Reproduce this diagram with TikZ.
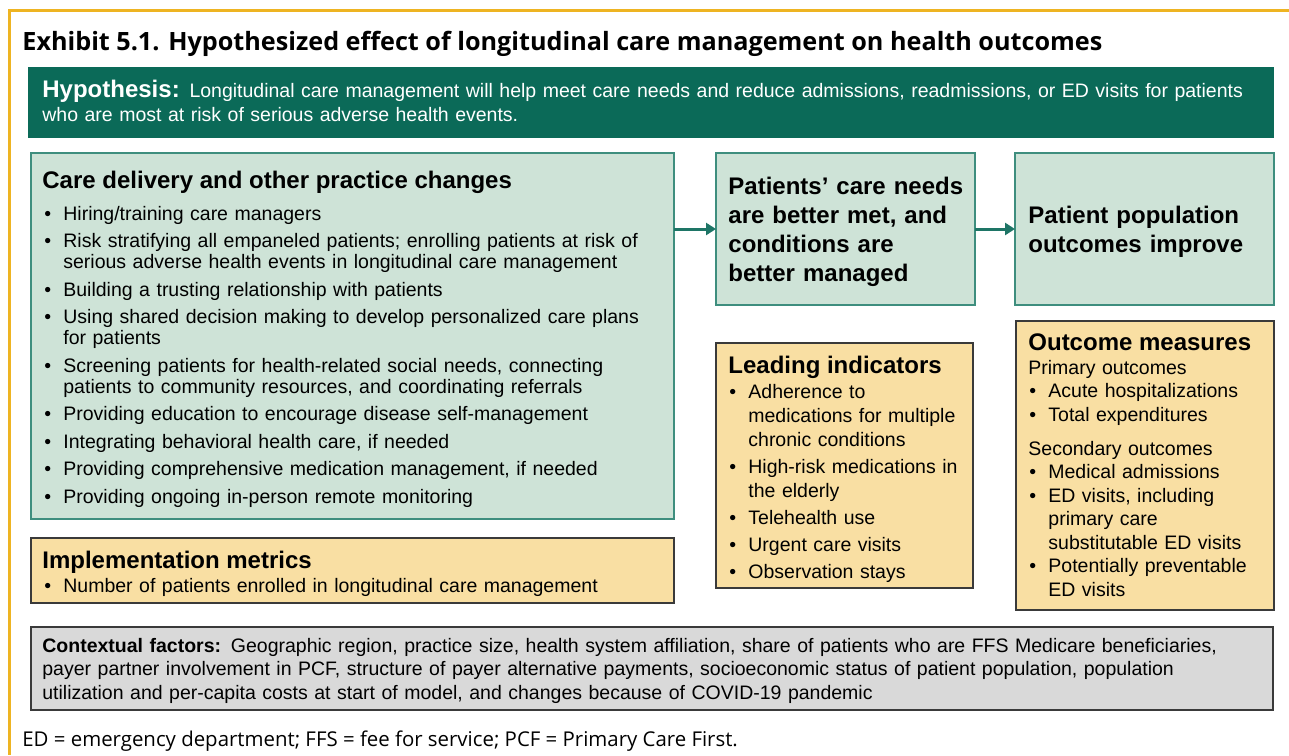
\documentclass[tikz,border=0pt]{standalone}
\usepackage{fontspec}
\setmainfont{Liberation Sans}
\newfontfamily\headfont{Open Sans}
\usepackage{tikz}
\usetikzlibrary{positioning,arrows.meta}

\definecolor{gold}{HTML}{EEB422}
\definecolor{hypgreen}{HTML}{0B6A58}
\definecolor{carefill}{HTML}{CEE3D7}
\definecolor{careline}{HTML}{3E8E7E}
\definecolor{flowteal}{HTML}{1E7566}
\definecolor{yelfill}{HTML}{F9DFA3}
\definecolor{boxline}{HTML}{3A3A3A}
\definecolor{ctxfill}{HTML}{D9D9D9}

\newcommand\txtsize[1]{\fontsize{9.75pt}{#1}\selectfont}
\newcommand\itm[1]{\hangindent=10pt\hangafter=1\makebox[10pt][l]{\hspace{0.5pt}\textbullet}#1\par}
\newcommand\gap[1]{\setlength\parskip{#1}}

\tikzset{
  box/.style 2 args={anchor=north west, inner sep=0pt, outer sep=0pt,
    minimum width=#1*0.5pt, minimum height=#2*0.5pt},
  greenbox/.style={draw=careline, fill=carefill, line width=1pt},
  yellowbox/.style={draw=boxline, fill=yelfill, line width=1pt},
  txt/.style={anchor=base west, inner sep=0pt, align=left, text width=#1*0.5pt},
  head/.style={anchor=base west, inner sep=0pt, font=\bfseries\fontsize{12pt}{14pt}\selectfont},
  flow/.style={-{Triangle[length=5pt,width=6pt]}, draw=flowteal, line width=1.5pt}
}

\begin{document}
\begin{tikzpicture}[x=0.5pt,y=-0.5pt]
  \fill[white] (0,0) rectangle (1289,755);
  \useasboundingbox (0,0) rectangle (1289,755);
  \draw[gold, line width=1.5pt] (1289,10) -| (9,755);

  % title and hypothesis
  \node[anchor=base west, inner sep=0pt, font=\headfont\bfseries\fontsize{12.6pt}{14pt}\selectfont] (title) at (22,50)
    {Exhibit 5.1. Hypothesized effect of longitudinal care management on health outcomes};
  \node[box={1246}{71}, fill=hypgreen] (hyp) at (28,67) {};
  \node[txt=1240, text=white, font=\txtsize{12pt}] (hyptext) at (42,97)
    {{\bfseries\fontsize{12pt}{12pt}\selectfont Hypothesis:} Longitudinal care management will help meet care needs and reduce admissions, readmissions, or ED visits for patients\newline
     who are most at risk of serious adverse health events.};

  % boxes
  \node[box={643}{366}, greenbox] (care) at (31,153) {};
  \node[box={259}{152}, greenbox] (needs) at (716,153) {};
  \node[box={259}{152}, greenbox] (pop) at (1015,153) {};
  \node[box={257}{245}, yellowbox] (lead) at (716,343) {};
  \node[box={258}{289}, yellowbox] (outm) at (1016,321) {};
  \node[box={643}{65}, yellowbox] (impl) at (31,538) {};
  \node[box={1242}{83}, draw=boxline, fill=ctxfill, line width=1pt] (ctx) at (31,627) {};

  % care delivery
  \node[head] (carehead) at (42,188) {Care delivery and other practice changes};
  \node[txt=640, font=\txtsize{10.5pt}] (carelist) at (43,220) {\gap{3.25pt}%
    \itm{Hiring/training care managers}
    \itm{Risk stratifying all empaneled patients; enrolling patients at risk of\newline serious adverse health events in longitudinal care management}
    \itm{Building a trusting relationship with patients}
    \itm{Using shared decision making to develop personalized care plans\newline for patients}
    \itm{Screening patients for health-related social needs, connecting\newline patients to community resources, and coordinating referrals}
    \itm{Providing education to encourage disease self-management}
    \itm{Integrating behavioral health care, if needed}
    \itm{Providing comprehensive medication management, if needed}
    \itm{Providing ongoing in-person remote monitoring}};

  % outcomes chain
  \node[txt=250, font=\bfseries\fontsize{12pt}{14.5pt}\selectfont] (needstext) at (728,194)
    {Patients’ care needs\newline are better met, and\newline conditions are\newline better managed};
  \node[txt=250, font=\bfseries\fontsize{12pt}{14.5pt}\selectfont] (poptext) at (1028,223)
    {Patient population\newline outcomes improve};
  \draw[flow] (care.east |- needs.west) -- (needs.west);
  \draw[flow] (needs.east) -- (pop.west);

  % leading indicators
  \node[head] (leadhead) at (728,373) {Leading indicators};
  \node[txt=250, font=\txtsize{12pt}] (leadlist) at (728,398) {\gap{1.5pt}%
    \itm{Adherence to\newline medications for multiple\newline chronic conditions}
    \itm{High-risk medications in\newline the elderly}
    \itm{Telehealth use}
    \itm{Urgent care visits}
    \itm{Observation stays}};

  % outcome measures
  \node[head] (outhead) at (1028,350) {Outcome measures};
  \node[txt=250, font=\txtsize{11.75pt}] (outlist) at (1028,374) {Primary outcomes\par
    \itm{Acute hospitalizations}
    \itm{Total expenditures}
    \vspace{5.25pt}Secondary outcomes\par
    \itm{Medical admissions}
    \itm{ED visits, including\newline primary care\newline substitutable ED visits}
    \itm{Potentially preventable\newline ED visits}};

  % implementation metrics
  \node[head] (implhead) at (42,568) {Implementation metrics};
  \node[txt=640, font=\txtsize{10.5pt}] (impllist) at (43,592)
    {\itm{Number of patients enrolled in longitudinal care management}};

  % contextual factors
  \node[txt=1240, font=\txtsize{11.75pt}] (ctxtext) at (42,652)
    {\textbf{Contextual factors:} Geographic region, practice size, health system affiliation, share of patients who are FFS Medicare beneficiaries,\newline
     payer partner involvement in PCF, structure of payer alternative payments, socioeconomic status of patient population, population\newline
     utilization and per-capita costs at start of model, and changes because of COVID-19 pandemic};

  \node[anchor=base west, inner sep=0pt, font=\headfont\fontsize{10.2pt}{12pt}\selectfont] (note) at (22,746)
    {ED = emergency department; FFS = fee for service; PCF = Primary Care First.};
\end{tikzpicture}
\end{document}
